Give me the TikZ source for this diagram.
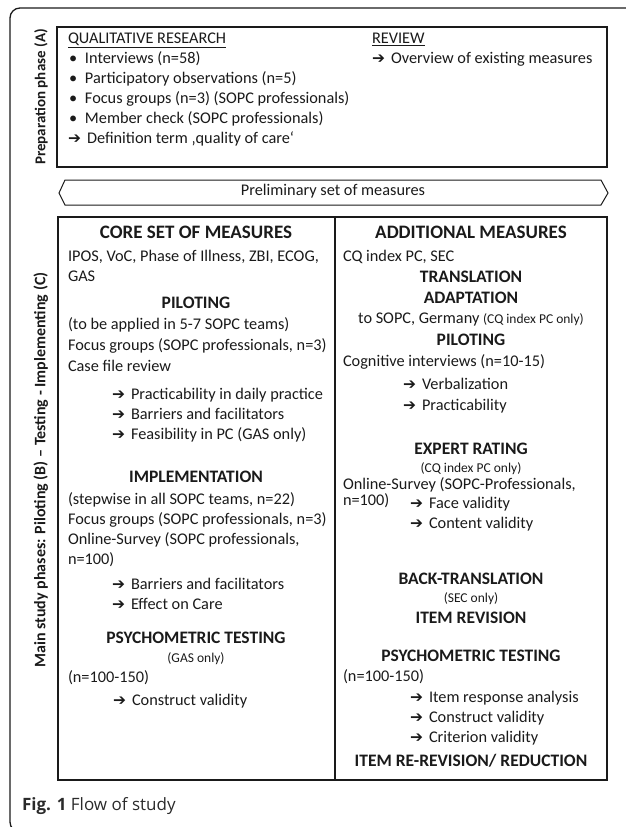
\documentclass[tikz,border=0pt]{standalone}
\usepackage{fontspec}
\setmainfont{Carlito}
\newfontfamily\arrowfont{DejaVu Sans}
\newfontfamily\capfont{Open Sans}
\definecolor{ink}{HTML}{1A1A1A}
\definecolor{capgray}{HTML}{2A2A2A}
\newcommand\arrw{{\arrowfont\fontsize{15.5}{15.5}\selectfont ➔}}
\newcommand\arrbox{\makebox[19pt][l]{\arrw}}
\newcommand\bulbox{\makebox[16pt][l]{•}}
\begin{document}
\begin{tikzpicture}[x=1pt,y=-1pt,
  every node/.style={inner sep=0pt, outer sep=0pt, text=ink},
  frame/.style={draw=ink, line width=1.3pt},
  body/.style={font=\fontsize{16.3}{19}\selectfont},
  lt/.style={body, anchor=mid west},
  ct/.style={body, anchor=mid},
  hdA/.style={font=\fontsize{19}{22}\selectfont\bfseries, anchor=mid},
  hdB/.style={font=\fontsize{17.5}{20}\selectfont\bfseries, anchor=mid},
  sm/.style={font=\fontsize{13.5}{15}\selectfont, anchor=mid},
  side/.style={font=\fontsize{15}{18}\selectfont\bfseries, rotate=90, anchor=mid}]
\useasboundingbox (0,0) rectangle (625,827);
% outer frame
\draw[draw=ink, line width=1.3pt, rounded corners=10pt] (640,8) -- (10,8) -- (10,832) -- (40,832);
% boxes
\draw[frame] (57,27) rectangle (607,167);
\draw[frame] (58,217) rectangle (607,780);
\draw[frame] (335,217) -- (335,780);
\draw[draw=ink, line width=1pt] (59,193) -- (65,180) -- (601,180) -- (608,193) -- (601,205) -- (65,205) -- cycle;
\node[ct] (prelim) at (333,193) {Preliminary set of measures};
% side labels
\node[side] (prepA) at (43,97) {Preparation phase (A)};
\node[side, font=\fontsize{16}{18}\selectfont\bfseries] (mainC) at (43,470) {Main study phases: Piloting (B) – Testing - Implementing (C)};
% preparation box
\node[lt] (qr) at (68,41) {\underline{QUALITATIVE RESEARCH}};
\node[lt] (q1) at (69,61) {\bulbox Interviews (n=58)};
\node[lt] (q2) at (69,81) {\bulbox Participatory observations (n=5)};
\node[lt] (q3) at (69,101) {\bulbox Focus groups (n=3) (SOPC professionals)};
\node[lt] (q4) at (69,121) {\bulbox Member check (SOPC professionals)};
\node[lt] (q5) at (68,141) {\arrbox Definition term ‚quality of care‘};
\node[lt] (rv) at (372,41) {\underline{REVIEW}};
\node[lt] (rv1) at (372,61) {\arrbox Overview of existing measures};
% left column
\node[hdA] (core) at (196,236) {CORE SET OF MEASURES};
\node[lt] (ipos) at (68,259) {IPOS, VoC, Phase of Illness, ZBI, ECOG,};
\node[lt] (gas) at (68,279) {GAS};
\node[hdB] (pilL) at (196,306) {PILOTING};
\node[lt] (pl1) at (68,327) {(to be applied in 5-7 SOPC teams)};
\node[lt] (pl2) at (68,348) {Focus groups (SOPC professionals, n=3)};
\node[lt] (pl3) at (68,369) {Case file review};
\node[lt] (pl4) at (112,397) {\arrbox Practicability in daily practice};
\node[lt] (pl5) at (112,417) {\arrbox Barriers and facilitators};
\node[lt] (pl6) at (112,437) {\arrbox Feasibility in PC (GAS only)};
\node[hdB] (impl) at (196,480) {IMPLEMENTATION};
\node[lt] (im1) at (68,502) {(stepwise in all SOPC teams, n=22)};
\node[lt] (im2) at (68,522) {Focus groups (SOPC professionals, n=3)};
\node[lt] (im3) at (68,542) {Online-Survey (SOPC professionals,};
\node[lt] (im4) at (68,562) {n=100)};
\node[lt] (im5) at (112,587) {\arrbox Barriers and facilitators};
\node[lt] (im6) at (112,607) {\arrbox Effect on Care};
\node[hdB] (psyL) at (196,641) {PSYCHOMETRIC TESTING};
\node[sm] (psyL1) at (196,660) {(GAS only)};
\node[lt] (psyL2) at (68,680) {(n=100-150)};
\node[lt] (psyL3) at (113,703) {\arrbox Construct validity};
% right column
\node[hdA] (add) at (471,236) {ADDITIONAL MEASURES};
\node[lt] (cq) at (343,259) {CQ index PC, SEC};
\node[hdB] (trans) at (471,280) {TRANSLATION};
\node[hdB] (adapt) at (471,301) {ADAPTATION};
\node[ct] (ad1) at (471,321) {to SOPC, Germany {\fontsize{13.5}{14}\selectfont(CQ index PC only)}};
\node[hdB] (pilR) at (471,343) {PILOTING};
\node[lt] (pr1) at (343,364) {Cognitive interviews (n=10-15)};
\node[lt] (pr2) at (403,387) {\arrbox Verbalization};
\node[lt] (pr3) at (403,408) {\arrbox Practicability};
\node[hdB] (exp) at (471,452) {EXPERT RATING};
\node[sm] (ex1) at (471,470) {(CQ index PC only)};
\node[lt] (ex2) at (343,487) {Online-Survey (SOPC-Professionals,};
\node[lt] (ex3) at (343,503) {n=100)};
\node[lt] (ex4) at (410,506) {\arrbox Face validity};
\node[lt] (ex5) at (410,526) {\arrbox Content validity};
\node[hdB] (back) at (471,582) {BACK-TRANSLATION};
\node[sm] (bk1) at (471,600) {(SEC only)};
\node[hdB] (irev) at (471,621) {ITEM REVISION};
\node[hdB] (psyR) at (471,659) {PSYCHOMETRIC TESTING};
\node[lt] (ps1) at (343,679) {(n=100-150)};
\node[lt] (ps2) at (410,700) {\arrbox Item response analysis};
\node[lt] (ps3) at (410,720) {\arrbox Construct validity};
\node[lt] (ps4) at (410,740) {\arrbox Criterion validity};
\node[hdB] (rered) at (471,764) {ITEM RE-REVISION/ REDUCTION};
% caption
\node[anchor=mid west, text=capgray] (cap) at (22,808) {\capfont\fontsize{17}{20}\selectfont\textbf{Fig. 1} Flow of study};
\end{tikzpicture}
\end{document}
